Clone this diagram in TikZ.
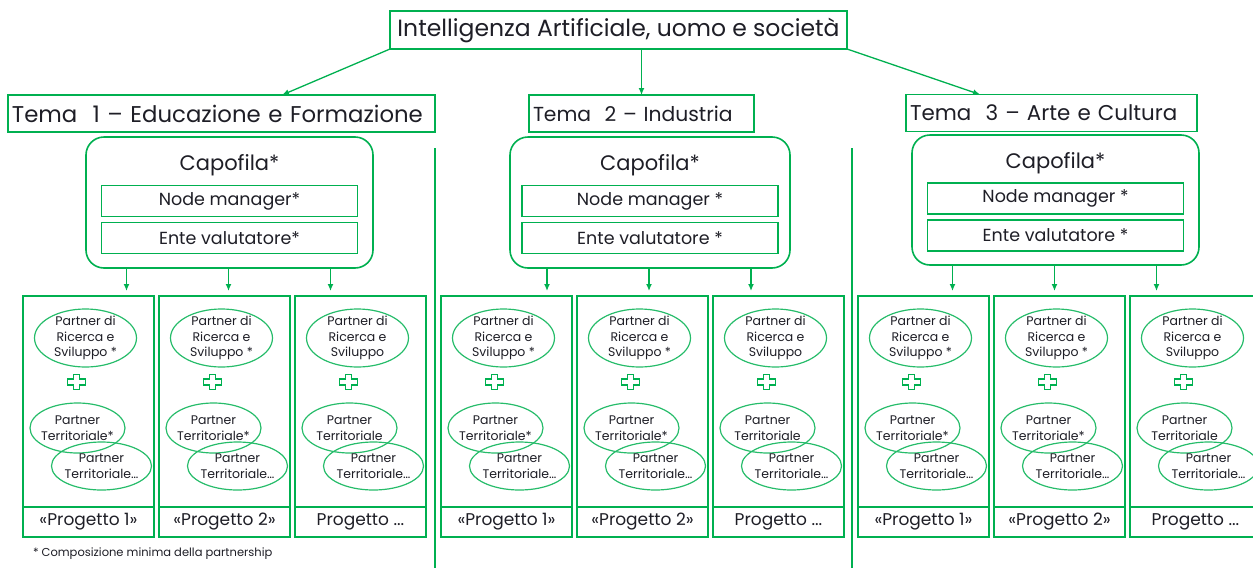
\documentclass[tikz,border=0pt]{standalone}
\usepackage{fontspec}
\setmainfont{Poppins}
\usepackage{tikz}
\usetikzlibrary{arrows.meta}
\usetikzlibrary{positioning}
\usetikzlibrary{shapes.geometric}
\definecolor{verde}{RGB}{0,176,80}
\definecolor{testo}{RGB}{30,30,38}
\tikzset{piu/.pic={\draw[verde,line width=1.2pt] (-3,-7.5) -- (3,-7.5) -- (3,-3) -- (9,-3) -- (9,3) -- (3,3) -- (3,7.5) -- (-3,7.5) -- (-3,3) -- (-9,3) -- (-9,-3) -- (-3,-3) -- cycle;}}

\begin{document}
\begin{tikzpicture}[x=1pt,y=-1pt,>={Latex[length=7pt,width=6pt]},
  every node/.style={text=testo,inner sep=0pt,outer sep=0pt},
  riq/.style={draw=verde,line width=1.6pt},
  freccia/.style={->,draw=verde,line width=1.3pt},
  tema/.style={riq,minimum height=37pt,inner xsep=4pt,align=left},
  capo/.style={riq,rounded corners=18pt},
  dentro/.style={riq,minimum width=256pt,minimum height=31pt,font=\fontsize{17.5}{20}\selectfont},
  progetto/.style={riq,minimum width=131pt},
  ovale/.style={ellipse,draw=verde!85,line width=1.2pt},
  ptxt/.style={align=center,font=\fontsize{12.5}{15.5}\selectfont}]
  \useasboundingbox (0,0) rectangle (1253,568);

  \node[riq,minimum width=457pt,minimum height=38pt,font=\fontsize{23.5}{26}\selectfont] (titolo) at (618.5,30) {Intelligenza Artificiale, uomo e società};
  \node[tema,text width=419pt,font=\fontsize{22.8}{26}\selectfont] (tema1) at (221.5,113.5) {\mbox{Tema~~1 – Educazione e Formazione}};
  \node[tema,text width=217pt,font=\fontsize{20.3}{24}\selectfont] (tema2) at (641.5,113.5) {\mbox{Tema~~2 – Industria}};
  \node[tema,text width=283pt,font=\fontsize{21.4}{24}\selectfont] (tema3) at (1051.5,113) {\mbox{Tema~~3 – Arte e Cultura}};

  \draw[freccia] (titolo.south west) -- ([xshift=60.5pt]tema1.north);
  \draw[freccia] (titolo.south -| tema2.north) -- (tema2.north);
  \draw[freccia] (titolo.south east) -- ([xshift=-71.5pt]tema3.north);

  % separatori tra i temi
  \draw[riq] (435,148) -- (435,568);
  \draw[riq] (852,148) -- (852,568);

  \foreach \col/\cx/\cy/\cw/\ch/\bx/\nm/\ev in {
      1/229.5/202.5/287/131/23/{Node manager*}/{Ente valutatore*},
      2/650/202.5/280/131/441/{Node manager *}/{Ente valutatore *},
      3/1055.5/200/287/130/858/{Node manager *}/{Ente valutatore *}}{
    \node[capo,minimum width=\cw pt,minimum height=\ch pt] (cap\col) at (\cx,\cy) {};
    \node[below=17pt of cap\col.north,font=\fontsize{21}{24}\selectfont] (cf\col) {Capofila*};
    \node[dentro] (nm\col) at ([yshift=1.5pt]cap\col.center) {\nm};
    \node[dentro,below=6pt of nm\col] (ev\col) {\ev};
    \foreach \proj/\stella/\lab in {1/*/{«Progetto 1»},2/*/{«Progetto 2»},3//{Progetto ...}}{
      \pgfmathsetmacro\px{\bx+(\proj-1)*136+65.5}
      \pgfmathsetmacro\ax{(\proj-2)*102-1}
      \node[progetto,minimum height=211pt] (p\col\proj) at (\px,401.5) {};
      \node[progetto,minimum height=30pt,below=0pt of p\col\proj,font=\fontsize{17}{20}\selectfont] (l\col\proj) {\lab};
      \draw[freccia,shorten >=5pt] ([xshift=\ax pt]cap\col.south) -- ([xshift=\ax pt]cap\col.south |- p\col\proj.north);
      \node[ovale,minimum width=102pt,minimum height=58pt,label={[ptxt]center:{Partner di\\Ricerca e\\Sviluppo \stella}}] (a\col\proj) at ([xshift=-3pt,yshift=-42pt]p\col\proj.north) {};
      \pic at ([xshift=-12pt,yshift=-86pt]p\col\proj.north) {piu};
      \node[ovale,minimum width=95pt,minimum height=50pt,label={[ptxt]center:{Partner\\Territoriale\stella}}] (b\col\proj) at ([xshift=-11pt,yshift=-132pt]p\col\proj.north) {};
      \node[ovale,minimum width=100pt,minimum height=48pt,label={[ptxt]center:{Partner\\Territoriale…}}] (c\col\proj) at ([xshift=13pt,yshift=-170pt]p\col\proj.north) {};
    }
  }

  \node[anchor=west,font=\fontsize{11.5}{13}\selectfont] (nota) at (33,554) {* Composizione minima della partnership};
\end{tikzpicture}
\end{document}
